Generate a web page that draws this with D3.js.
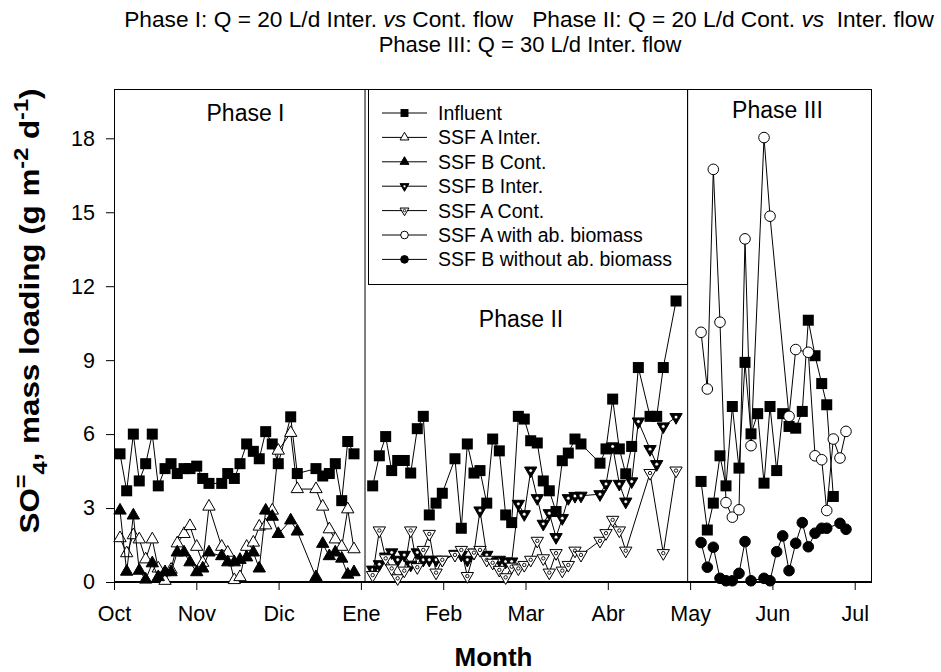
<!DOCTYPE html>
<html><head><meta charset="utf-8">
<script src="https://cdn.jsdelivr.net/npm/d3@7/dist/d3.min.js"></script>
<style>
body{margin:0;background:#fff;}
svg{font-family:"Liberation Sans",Arial,sans-serif;}
text{white-space:pre;}
</style></head>
<body>
<svg id="chart" width="941" height="672"></svg>
<script>
// ---------- DATA (x = months since 1 Oct, equal-width months) ----------
const months = ["Oct","Nov","Dic","Ene","Feb","Mar","Abr","May","Jun","Jul"];
const yTicks = [0,3,6,9,12,15,18];
const phaseDividers = [3.05, 6.97];
const phaseLabels = ["Phase I","Phase II","Phase III"];

const phase1X = [0.073,0.154,0.235,0.307,0.385,0.465,0.538,0.620,0.693,0.769,0.851,0.923,1.005,1.078,1.154,1.309,1.382,1.462,1.531,1.612,1.693,1.765,1.843,1.923,1.996,2.147,2.227,2.454,2.536,2.616,2.689,2.767,2.840,2.916];
const influentP1 = [5.2,3.7,6.0,4.1,4.8,6.0,3.9,4.6,4.8,4.4,4.6,4.6,4.7,4.2,4.0,4.0,4.4,4.2,4.8,5.6,5.3,5.0,6.1,5.6,4.8,6.7,4.4,4.6,4.3,4.4,4.8,3.3,5.7,5.2];
const ssfAInterP1 = [1.78,1.17,1.9,1.73,0.92,1.73,0.55,0.05,0.5,1.57,1.95,2.27,1.43,0.78,3.06,1.43,1.19,0.08,0.2,1.43,1.6,2.25,2.3,2.9,5.33,6.05,3.77,3.77,3.06,2.14,1.73,1.43,2.95,1.33];
const ssfBContP1 = [2.9,0.42,2.7,0.46,0.1,0.76,0.2,0.4,0.4,1.2,1.2,0.8,0.4,0.55,1.2,1.05,0.8,0.8,0.9,1.0,1.2,0.55,2.9,2.65,1.95,2.5,2.05,0.2,1.55,1.05,1.2,0.95,0.3,0.4];

const phase2X = [3.143,3.224,3.301,3.374,3.447,3.527,3.605,3.685,3.758,3.831,3.913,3.989,4.143,4.220,4.293,4.374,4.447,4.529,4.601,4.682,4.759,4.832,4.913,4.985,5.063,5.143,5.216,5.289,5.371,5.447,5.520,5.601,5.674,5.905,5.978,6.059,6.140,6.218,6.290,6.371,6.513,6.594,6.674,6.829];
const influentP2 = [3.9,5.12,5.9,4.52,4.93,4.93,4.42,6.22,6.72,2.72,3.2,3.6,5.0,2.18,5.6,4.42,4.52,3.2,5.8,5.32,2.72,2.41,6.72,6.61,5.73,5.64,4.1,3.7,2.86,4.92,5.23,5.8,5.6,4.82,5.4,7.42,5.4,4.39,5.5,8.7,6.72,6.72,8.7,11.4];
const ssfBInterP2 = [0.5,0.72,1.03,1.2,0.9,1.1,0.7,1.2,0.9,0.9,0.9,0.9,1.14,1.1,0.9,1.19,2.9,1.1,0.83,0.9,0.83,0.83,3.17,2.75,4.52,3.4,2.36,2.79,1.82,2.59,3.4,3.49,3.5,3.56,3.98,5.5,3.98,3.26,4.08,6.51,5.39,4.78,6.31,6.69];
const ssfAContP2 = [0.28,2.09,0.96,0.55,0.15,0.46,2.09,0.6,1.3,1.95,0.38,0.9,1.1,1.3,0.24,1.19,1.3,0.9,0.78,0.49,0.19,0.62,0.55,0.69,0.9,1.67,0.96,0.38,1.17,0.46,0.69,1.27,1.1,1.67,1.98,2.52,2.09,1.27,null,null,4.42,null,1.17,4.52];

const phase3X = [7.133,7.209,7.282,7.363,7.436,7.513,7.594,7.667,7.740,7.821,7.898,7.971,8.052,8.125,8.202,8.283,8.363,8.436,8.518,8.599,8.660,8.740,8.821,8.894];
const influentP3 = [4.08,2.11,3.2,5.12,3.9,7.12,4.62,8.91,6.01,6.83,4.01,7.12,4.52,6.83,6.31,6.24,6.92,10.62,9.18,8.05,7.19,3.47,null,null];
const ssfAbioP3 = [10.13,7.83,16.74,10.54,3.22,2.63,2.93,13.92,5.53,null,18.03,14.84,null,null,6.72,9.43,null,9.32,5.12,4.96,2.9,5.8,5.03,6.11];
const ssfBnoP3 = [1.6,0.6,1.41,0.15,0.05,0.05,0.35,1.64,0.05,null,0.15,0.05,1.23,1.87,0.46,1.57,2.41,1.43,1.98,2.18,2.18,null,2.38,2.14];

const seriesNames = ["Influent","SSF A Inter.","SSF B Cont.","SSF B Inter.","SSF A Cont.","SSF A with ab. biomass","SSF B without ab. biomass"];
const seriesMarkers = ["sqF","triUpO","triUpF","triDnF","triDnO","circO","circF"];
const seriesSegments = [
  [[phase1X,influentP1],[phase2X,influentP2],[phase3X,influentP3]],
  [[phase1X,ssfAInterP1]],
  [[phase1X,ssfBContP1]],
  [[phase2X,ssfBInterP2]],
  [[phase2X,ssfAContP2]],
  [[phase3X,ssfAbioP3]],
  [[phase3X,ssfBnoP3]]
];

// ---------- LAYOUT ----------
const svg = d3.select("#chart");
const L=114, R=872, T=89, B=582;
const x = d3.scaleLinear().domain([0,9.21]).range([L,R]);
const y = d3.scaleLinear().domain([0,20]).range([B,T]);

function marker(g, type, k){
  k = k||1;
  const tri = d3.symbol().type(d3.symbolTriangle).size(66*k*k)();
  if(type==="sqF"){
    const s=11*k;
    g.append("rect").attr("x",-s/2).attr("y",-s/2).attr("width",s).attr("height",s).attr("fill","#000");
  } else if(type==="triUpO"||type==="triUpF"){
    g.append("path").attr("d",tri).attr("fill",type==="triUpF"?"#000":"#fff").attr("stroke","#000").attr("stroke-width",1);
  } else if(type==="triDnO"||type==="triDnF"){
    g.append("path").attr("d",tri).attr("transform","rotate(180)").attr("fill",type==="triDnF"?"#000":"#fff").attr("stroke","#000").attr("stroke-width",1);
    g.append("circle").attr("r",1.7*k).attr("fill","#fff").attr("stroke","#000").attr("stroke-width",type==="triDnF"?0.4:0.9);
  } else if(type==="circO"||type==="circF"){
    g.append("circle").attr("r",5.3*k).attr("fill",type==="circF"?"#000":"#fff").attr("stroke","#000").attr("stroke-width",1);
  }
}

// frame
svg.append("rect").attr("x",L+0.5).attr("y",T+0.5).attr("width",R-L-1).attr("height",B-T-1)
  .attr("fill","none").attr("stroke","#000").attr("stroke-width",1);

// phase dividers
phaseDividers.forEach(d=>{
  svg.append("line").attr("x1",x(d)).attr("x2",x(d)).attr("y1",T).attr("y2",B).attr("stroke","#000").attr("stroke-width",1);
});

// axes
const xAxis = svg.append("g").attr("transform",`translate(0,${B})`)
  .call(d3.axisBottom(x).tickValues(d3.range(months.length)).tickFormat(i=>months[i]).tickSize(8).tickPadding(16));
const yAxis = svg.append("g").attr("transform",`translate(${L},0)`)
  .call(d3.axisLeft(y).tickValues(yTicks).tickSize(8).tickPadding(11));
[xAxis,yAxis].forEach(a=>{
  a.select(".domain").remove();
  a.selectAll("line").attr("stroke","#000");
  a.selectAll("text").attr("fill","#000").style("font-size","21.5px").style("font-family",'"Liberation Sans",Arial,sans-serif');
});
svg.append("line").attr("x1",L).attr("x2",R).attr("y1",B+0.5).attr("y2",B+0.5).attr("stroke","#000");

// series
const line = d3.line().x(d=>x(d[0])).y(d=>y(d[1]));
const plot = svg.append("g");
seriesSegments.forEach((segs,si)=>{
  segs.forEach(([xs,vs])=>{
    const pts = xs.map((v,i)=>[v,vs[i]]).filter(p=>p[1]!==null && p[1]!==undefined);
    plot.append("path").attr("d",line(pts)).attr("fill","none").attr("stroke","#000").attr("stroke-width",1);
    pts.forEach(p=>{
      const g = plot.append("g").attr("transform",`translate(${x(p[0])},${y(p[1])})`);
      marker(g, seriesMarkers[si]);
    });
  });
});

// legend
const lg = svg.append("g");
lg.append("rect").attr("x",368.5).attr("y",T+0.5).attr("width",319).attr("height",195)
  .attr("fill","#fff").attr("stroke","#000").attr("stroke-width",1);
seriesNames.forEach((n,i)=>{
  const yy = 113 + i*24.4;
  lg.append("line").attr("x1",382).attr("x2",427).attr("y1",yy).attr("y2",yy).attr("stroke","#000");
  const g = lg.append("g").attr("transform",`translate(404.5,${yy})`);
  marker(g, seriesMarkers[i], 0.72);
  lg.append("text").attr("x",438).attr("y",yy+7).style("font-size","19.5px").text(n);
});

// phase labels
const phasePos = [[245.5,121],[521,327],[777.5,118]];
phaseLabels.forEach((p,i)=>{
  svg.append("text").attr("x",phasePos[i][0]).attr("y",phasePos[i][1]).attr("text-anchor","middle")
    .style("font-size","23px").text(p);
});

// title
const t1 = svg.append("text").attr("x",529).attr("y",26.5).attr("text-anchor","middle").style("font-size","22.7px");
t1.append("tspan").text("Phase I: Q = 20 L/d Inter. ");
t1.append("tspan").style("font-style","italic").text("vs");
t1.append("tspan").text(" Cont. flow   Phase II: Q = 20 L/d Cont. ");
t1.append("tspan").style("font-style","italic").text("vs");
t1.append("tspan").text("  Inter. flow");
svg.append("text").attr("x",530).attr("y",51.5).attr("text-anchor","middle").style("font-size","22px")
  .text("Phase III: Q = 30 L/d Inter. flow");

// axis titles
svg.append("text").attr("x",493.5).attr("y",666).attr("text-anchor","middle")
  .style("font-size","26px").style("font-weight","bold").text("Month");
const yl = svg.append("text").attr("transform","translate(39,311) rotate(-90) scale(1.12,1)").attr("text-anchor","middle")
  .style("font-size","28px").style("font-weight","bold");
yl.append("tspan").text("SO");
yl.append("tspan").attr("dy",-11).style("font-size","21px").text("=");
yl.append("tspan").attr("dy",19).style("font-size","21px").text("4");
yl.append("tspan").attr("dy",-8).text(", mass loading (g m");
yl.append("tspan").attr("dy",-11).style("font-size","21px").text("-2");
yl.append("tspan").attr("dy",11).text(" d");
yl.append("tspan").attr("dy",-11).style("font-size","21px").text("-1");
yl.append("tspan").attr("dy",11).text(")");
</script>
</body></html>
